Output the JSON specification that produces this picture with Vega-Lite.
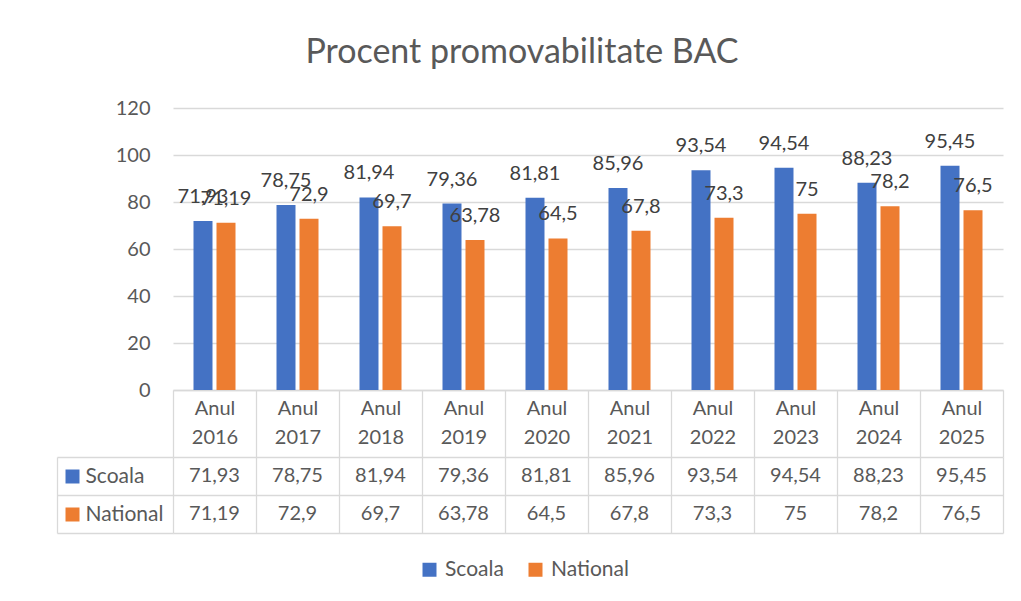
{
  "$schema": "https://vega.github.io/schema/vega-lite/v6.json",
  "padding": {"left": 56, "top": 36, "right": 18, "bottom": 20},
  "title": {"text": "Procent promovabilitate BAC", "font": "Lato", "fontSize": 34, "fontWeight": "normal", "color": "#595959", "anchor": "middle", "offset": 28, "dx": -8},
  "config": {
    "font": "Lato",
    "view": {"stroke": null},
    "locale": {"number": {"decimal": ",", "thousands": ".", "grouping": [3], "currency": ["", " lei"]}},
    "axis": {"labelFont": "Lato", "titleFont": "Lato"},
    "legend": {"labelFont": "Lato"}
  },
  "datasets": {
    "bac": [
      {"year": "Anul 2016", "series": "Scoala", "value": 71.93},
      {"year": "Anul 2016", "series": "National", "value": 71.19},
      {"year": "Anul 2017", "series": "Scoala", "value": 78.75},
      {"year": "Anul 2017", "series": "National", "value": 72.9},
      {"year": "Anul 2018", "series": "Scoala", "value": 81.94},
      {"year": "Anul 2018", "series": "National", "value": 69.7},
      {"year": "Anul 2019", "series": "Scoala", "value": 79.36},
      {"year": "Anul 2019", "series": "National", "value": 63.78},
      {"year": "Anul 2020", "series": "Scoala", "value": 81.81},
      {"year": "Anul 2020", "series": "National", "value": 64.5},
      {"year": "Anul 2021", "series": "Scoala", "value": 85.96},
      {"year": "Anul 2021", "series": "National", "value": 67.8},
      {"year": "Anul 2022", "series": "Scoala", "value": 93.54},
      {"year": "Anul 2022", "series": "National", "value": 73.3},
      {"year": "Anul 2023", "series": "Scoala", "value": 94.54},
      {"year": "Anul 2023", "series": "National", "value": 75},
      {"year": "Anul 2024", "series": "Scoala", "value": 88.23},
      {"year": "Anul 2024", "series": "National", "value": 78.2},
      {"year": "Anul 2025", "series": "Scoala", "value": 95.45},
      {"year": "Anul 2025", "series": "National", "value": 76.5}
    ]
  },
  "bounds": "flush",
  "spacing": 67,
  "vconcat": [
    {
      "width": 830,
      "height": 282,
      "data": {"name": "bac"},
      "encoding": {
        "x": {"field": "year", "type": "nominal", "sort": null,
          "scale": {"paddingInner": 0, "paddingOuter": 0},
          "axis": {"title": null, "labelAngle": 0, "tickBand": "extent", "tickSize": 67, "tickColor": "#d9d9d9", "tickWidth": 1.3,
            "domainColor": "#d9d9d9", "domainWidth": 1.3, "labelPadding": -59, "labelExpr": "split(datum.label, ' ')",
            "labelFontSize": 20, "labelLineHeight": 29, "labelColor": "#595959", "labelOverlap": false, "grid": false}},
        "xOffset": {"field": "series", "type": "nominal", "sort": ["Scoala", "National"],
          "scale": {"domain": ["Scoala", "National"], "paddingInner": 0.174, "paddingOuter": 0.891}},
        "y": {"field": "value", "type": "quantitative",
          "scale": {"domain": [0, 120]},
          "axis": {"title": null, "values": [0, 20, 40, 60, 80, 100, 120], "domain": false, "ticks": false, "labelPadding": 23,
            "labelFontSize": 20, "labelColor": "#595959", "gridColor": "#d9d9d9", "gridWidth": 1.3}}
      },
      "layer": [
        {
          "mark": {"type": "bar"},
          "encoding": {
            "color": {"field": "series", "type": "nominal", "sort": ["Scoala", "National"],
              "scale": {"domain": ["Scoala", "National"], "range": ["#4472C4", "#ED7D31"]},
              "legend": {"orient": "none", "legendX": 246, "legendY": 451, "direction": "horizontal", "title": null,
                "symbolType": "square", "symbolSize": 196, "symbolStrokeWidth": 0, "labelFontSize": 21,
                "labelColor": "#595959", "columnPadding": 21, "labelOffset": 5}}
          }
        },
        {
          "mark": {"type": "text", "dy": -18, "baseline": "alphabetic", "fontSize": 20, "color": "#404040"},
          "encoding": {
            "text": {"field": "value", "type": "quantitative", "format": ".4~r"}
          }
        }
      ]
    },
    {
      "width": 830,
      "height": 76,
      "data": {"name": "bac"},
      "resolve": {"scale": {"y": "independent"}, "axis": {"y": "independent"}},
      "layer": [
        {
          "mark": {"type": "text", "fontSize": 20, "color": "#595959"},
          "encoding": {
            "x": {"field": "year", "type": "nominal", "sort": null,
              "scale": {"paddingInner": 0, "paddingOuter": 0},
              "axis": {"title": null, "labels": false, "ticks": false, "domain": false, "grid": true, "tickBand": "extent",
                "gridColor": "#d9d9d9", "gridWidth": 1.3}},
            "y": {"field": "series", "type": "nominal", "sort": ["Scoala", "National"],
              "scale": {"domain": ["Scoala", "National"], "paddingInner": 0, "paddingOuter": 0},
              "axis": {"title": null, "orient": "left", "grid": true, "gridColor": "#d9d9d9", "gridWidth": 1.3, "tickBand": "extent",
                "tickSize": 116, "tickColor": "#d9d9d9", "tickWidth": 1.3, "domain": false, "labelAlign": "left", "labelPadding": -28,
                "labelFontSize": 21, "labelColor": "#595959"}},
            "text": {"field": "value", "type": "quantitative", "format": ".4~r"}
          }
        },
        {
          "mark": {"type": "point", "opacity": 0},
          "encoding": {
            "y": {"field": "series", "type": "nominal", "sort": ["Scoala", "National"],
              "scale": {"domain": ["Scoala", "National"], "paddingInner": 0, "paddingOuter": 0},
              "axis": {"title": null, "orient": "left", "offset": 94, "domain": false, "labels": false, "grid": false,
                "ticks": true, "tickSize": 14, "tickWidth": 14, "tickCap": "butt",
                "tickColor": {"condition": {"test": "datum.value === 'Scoala'", "value": "#4472C4"}, "value": "#ED7D31"}}}
          }
        },
        {
          "mark": {"type": "point", "opacity": 0},
          "encoding": {
            "y": {"field": "series", "type": "nominal", "sort": ["Scoala", "National"],
              "scale": {"domain": ["Scoala", "National"], "paddingInner": 0, "paddingOuter": 0},
              "axis": {"title": null, "orient": "left", "offset": 116, "domain": true, "domainColor": "#d9d9d9", "domainWidth": 1.3,
                "labels": false, "grid": false, "ticks": false}}
          }
        }
      ]
    }
  ]
}
